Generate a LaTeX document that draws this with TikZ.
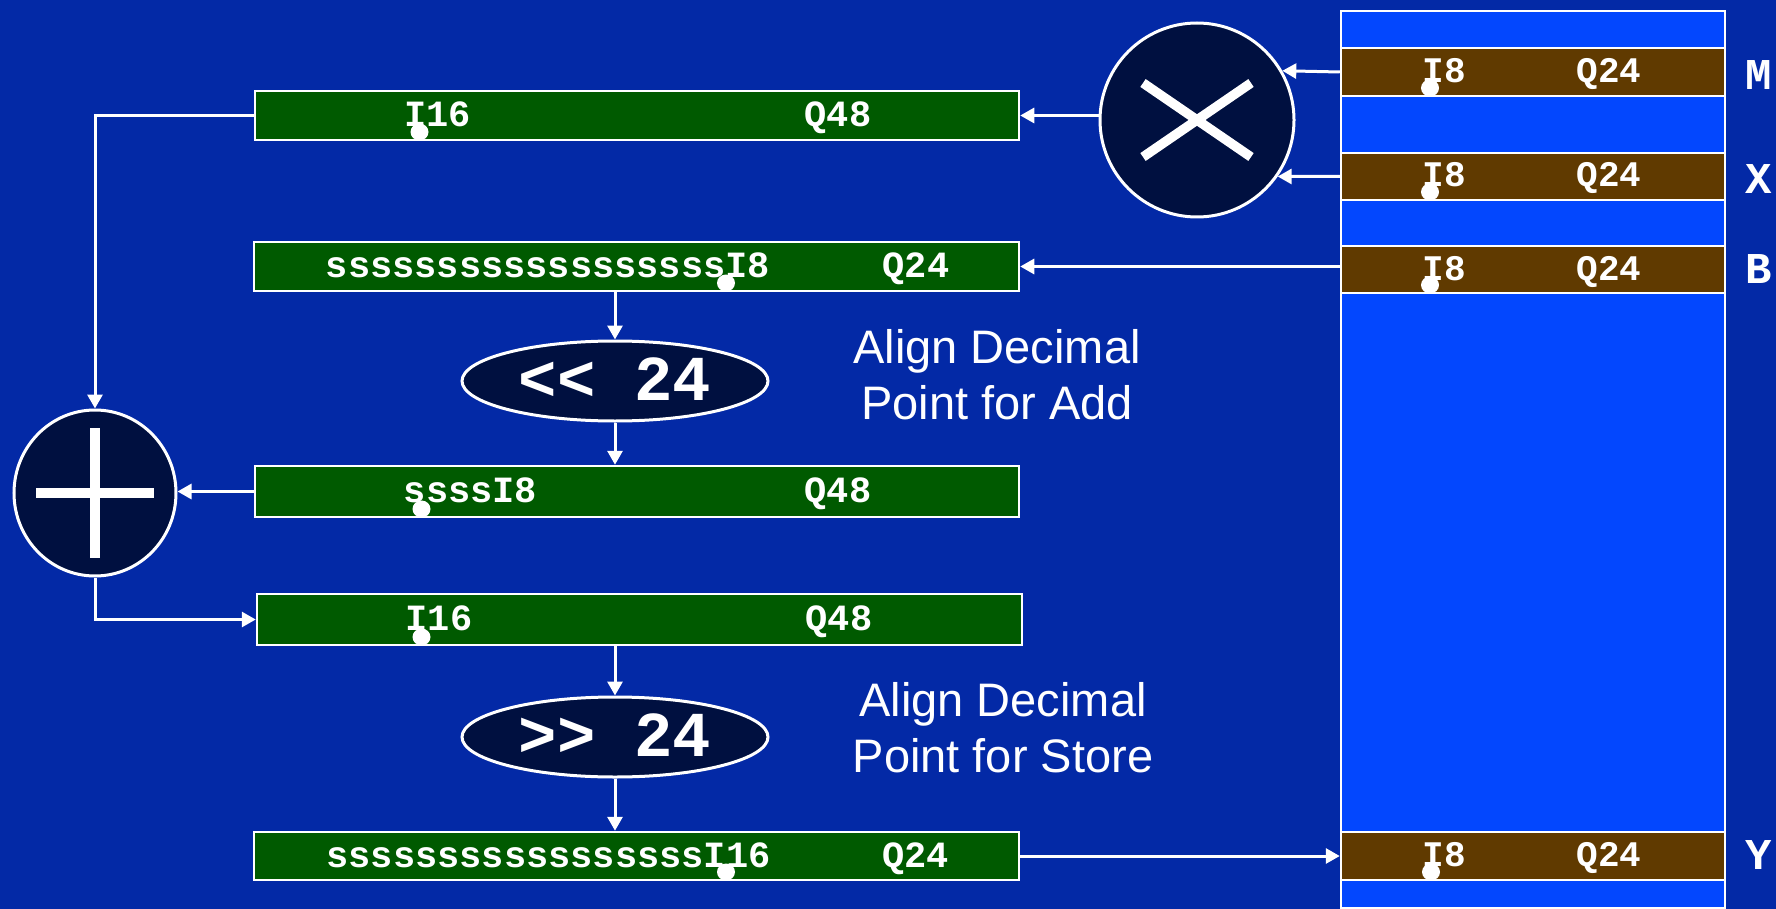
\documentclass[tikz,border=0pt]{standalone}
\usepackage{fontspec}
\setmainfont{Liberation Sans}
\setmonofont{Liberation Mono}
\usetikzlibrary{arrows.meta,shapes.geometric}

\definecolor{bgblue}{RGB}{3,41,166}
\definecolor{memblue}{RGB}{3,71,254}
\definecolor{regbrown}{RGB}{96,58,0}
\definecolor{reggreen}{RGB}{0,90,0}
\definecolor{opnavy}{RGB}{0,16,64}

\begin{document}
\begin{tikzpicture}[x=1pt,y=-1pt,
  memcol/.style={draw=white,line width=2.5pt,fill=memblue,minimum width=384pt,inner sep=0pt},
  memrow/.style={draw=white,line width=2.5pt,fill=regbrown,minimum width=384pt,inner sep=0pt},
  reg/.style={draw=white,line width=2.5pt,fill=reggreen,inner sep=0pt},
  bits/.style={text=white,font=\fontsize{37}{40}\selectfont\ttfamily\bfseries,inner sep=0pt,text height=22pt,text depth=0pt},
  membits/.style={bits,font=\fontsize{36}{40}\selectfont\ttfamily\bfseries,text height=21pt},
  lbl/.style={text=white,font=\fontsize{44}{48}\selectfont\ttfamily\bfseries,inner sep=0pt,text height=26pt,text depth=0pt},
  shiftop/.style={ellipse,draw=white,line width=3pt,fill=opnavy,minimum width=306pt,minimum height=80pt,inner sep=0pt,
    text=white,font=\fontsize{64}{70}\selectfont\ttfamily\bfseries,text height=38pt,text depth=0pt},
  opcirc/.style={ellipse,draw=white,line width=3pt,fill=opnavy,inner sep=0pt},
  sym/.style={draw=white,line width=9.5pt},
  note/.style={text=white,align=center,font=\fontsize{47}{56}\selectfont,inner sep=0pt},
  arr/.style={draw=white,line width=3pt,-{Triangle[length=14pt,width=15pt]}},
  dot/.style={fill=white}
]
% background and page frame
\fill[bgblue] (0,0) rectangle (1776,909);
\useasboundingbox (0,0) rectangle (1776,909);

% memory column with the four stored words
\node[memcol,minimum height=897pt] (mem) at (1533,459.5) {};
\node[memrow,minimum height=48pt] (rM) at (1533,72) {};
\node[memrow,minimum height=47pt] (rX) at (1533,176.5) {};
\node[memrow,minimum height=47pt] (rB) at (1533,269.5) {};
\node[memrow,minimum height=48pt] (rY) at (1533,856) {};

\foreach \r/\y in {rM/72,rX/176.5,rB/269.5,rY/856}{
  \node[membits] (\r i) at (1444,\y) {I8};
  \node[membits] (\r q) at (1609,\y) {Q24};
}
\node[lbl] (lM) at (1759,77) {M};
\node[lbl] (lX) at (1759,181) {X};
\node[lbl] (lB) at (1759,270) {B};
\node[lbl] (lY) at (1759,856) {Y};

% working registers
\node[reg,minimum width=764pt,minimum height=49pt] (g1) at (637,115.5) {};
\node[reg,minimum width=765pt,minimum height=49pt] (g2) at (636.5,266.5) {};
\node[reg,minimum width=764pt,minimum height=51pt] (g3) at (637,491.5) {};
\node[reg,minimum width=765pt,minimum height=51pt] (g4) at (639.5,619.5) {};
\node[reg,minimum width=765pt,minimum height=48pt] (g5) at (636.5,856) {};

\node[bits] (g1i) at (437.5,115.5) {I16};
\node[bits] (g1q) at (838,115.5) {Q48};
\node[bits] (g2i) at (548,266.5) {ssssssssssssssssssI8};
\node[bits] (g2q) at (916,266.5) {Q24};
\node[bits] (g3i) at (470.5,491.5) {ssssI8};
\node[bits] (g3q) at (838,491.5) {Q48};
\node[bits] (g4i) at (439,619.5) {I16};
\node[bits] (g4q) at (839,619.5) {Q48};
\node[bits] (g5i) at (548.5,856) {sssssssssssssssssI16};
\node[bits] (g5q) at (915.5,856) {Q24};

% binary point markers
\foreach \p in {(419.5,132),(726,283),(421.5,509),(421.5,637),(726,872),
                (1430,88),(1430,192),(1430,285),(1431,872)}{
  \fill[dot] \p ellipse [x radius=9,y radius=8.5];
}

% multiplier and adder
\node[opcirc,minimum width=194pt,minimum height=194pt] (mul) at (1197,120) {};
\draw[sym] (mul.center) ++(-54,-37) -- ++(108,74);
\draw[sym] (mul.center) ++(-54,37) -- ++(108,-74);
\node[opcirc,minimum width=162pt,minimum height=166pt] (add) at (95,493) {};
\draw[sym,line width=10pt] (add.center) ++(-59,0) -- ++(118,0);
\draw[sym,line width=10pt] (add.center) ++(0,-65) -- ++(0,130);

% alignment shifts
\node[shiftop] (shl) at (615,381) {<< 24};
\node[shiftop] (shr) at (615,737) {>> 24};

\node[note] (nAdd) at (997,374.5) {Align Decimal\\Point for Add};
\node[note] (nStore) at (1003,728) {Align Decimal\\Point for Store};

% data flow
\draw[arr] (rM.west) -- (mul.30);
\draw[arr] (rX.west) -- (mul.-35);
\draw[arr] (g1.east -| mul.west) -- (g1.east);
\draw[arr] (g2.east -| rB.west) -- (g2.east);
\draw[arr] (g1.west) -| (add.north);
\draw[arr] (g2.south -| shl.north) -- (shl.north);
\draw[arr] (shl.south) -- (shl.south |- g3.north);
\draw[arr] (g3.west) -- (g3.west -| add.east);
\draw[arr] (add.south) |- (g4.west);
\draw[arr] (g4.south -| shr.north) -- (shr.north);
\draw[arr] (shr.south) -- (shr.south |- g5.north);
\draw[arr] (g5.east) -- (g5.east -| rY.west);
\end{tikzpicture}
\end{document}
